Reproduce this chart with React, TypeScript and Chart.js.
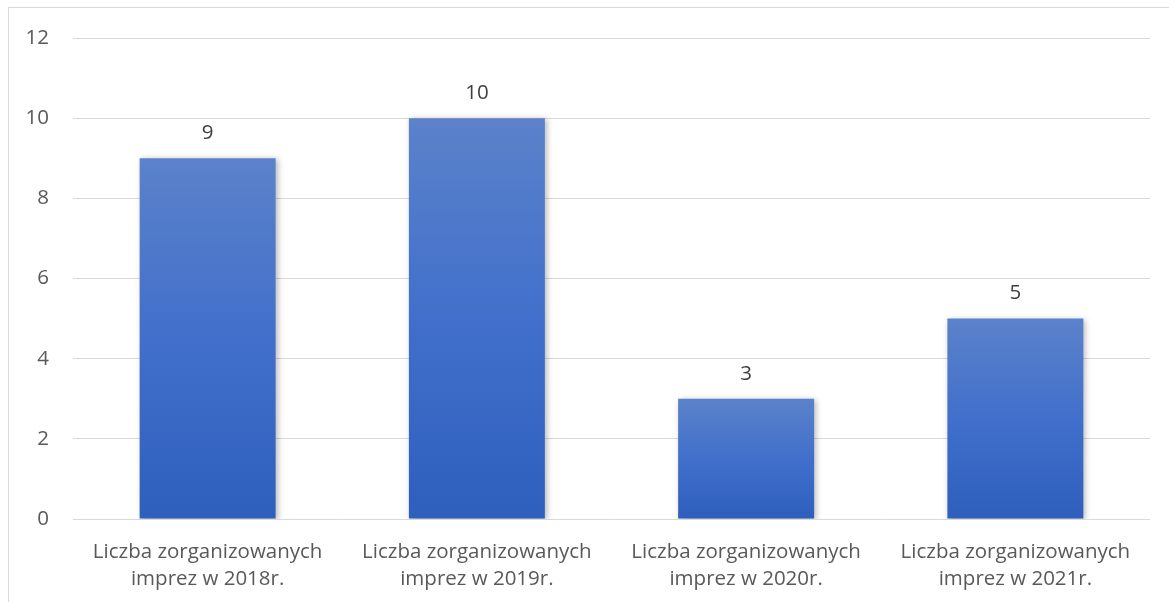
import React, { useEffect, useRef } from "react";
import { Chart, registerables } from "chart.js";

Chart.register(...registerables);

const categories: string[][] = [
  ["Liczba zorganizowanych", "imprez w 2018r."],
  ["Liczba zorganizowanych", "imprez w 2019r."],
  ["Liczba zorganizowanych", "imprez w 2020r."],
  ["Liczba zorganizowanych", "imprez w 2021r."],
];
const values: number[] = [9, 10, 3, 5];
const yMin = 0;
const yMax = 12;
const yStep = 2;

const FONT = "'Open Sans', sans-serif";
const FS = 20.5;

export default function App() {
  const ref = useRef<HTMLCanvasElement | null>(null);

  useEffect(() => {
    document.body.style.overflow = "hidden";
    const canvas = ref.current;
    if (!canvas) return;

    const shadowPlugin = {
      id: "barShadow",
      beforeDatasetsDraw(chart: any) {
        const ctx = chart.ctx;
        ctx.save();
        ctx.shadowColor = "rgba(0,0,0,0.28)";
        ctx.shadowBlur = 6;
        ctx.shadowOffsetX = 2;
        ctx.shadowOffsetY = 1;
      },
      afterDatasetsDraw(chart: any) {
        const ctx = chart.ctx;
        ctx.restore();
        ctx.save();
        ctx.fillStyle = "#404040";
        ctx.font = `${FS}px ${FONT}`;
        ctx.textAlign = "center";
        ctx.textBaseline = "middle";
        const meta = chart.getDatasetMeta(0);
        meta.data.forEach((el: any, i: number) => {
          ctx.fillText(String(values[i]), el.x, el.y - 25);
        });
        ctx.restore();
      },
    };

    const chart = new Chart(canvas, {
      type: "bar",
      data: {
        labels: categories,
        datasets: [
          {
            data: values,
            backgroundColor: (c: any) => {
              const ch = c.chart;
              const ys = ch.scales?.y;
              if (!ys || c.raw === undefined) return "#4472c4";
              const top = ys.getPixelForValue(c.raw);
              const bottom = ys.getPixelForValue(0);
              if (!isFinite(top) || !isFinite(bottom) || top === bottom) return "#4472c4";
              const g = ch.ctx.createLinearGradient(0, top, 0, bottom);
              g.addColorStop(0, "#5b82ca");
              g.addColorStop(0.5, "#416fcb");
              g.addColorStop(1, "#2e5fbd");
              return g;
            },
            borderWidth: 0,
            barPercentage: 0.505,
            categoryPercentage: 1,
          },
        ],
      },
      options: {
        responsive: false,
        animation: false,
        layout: { padding: { left: 0, right: 19, top: 30, bottom: 0 } },
        plugins: {
          legend: { display: false },
          tooltip: { enabled: false },
          title: { display: false },
        },
        scales: {
          x: {
            grid: { display: false, drawTicks: false },
            border: { display: false },
            ticks: {
              color: "#595959",
              font: { family: FONT, size: FS, lineHeight: 1.32 },
              padding: 20,
              maxRotation: 0,
              autoSkip: false,
            },
            afterFit: (s: any) => {
              s.height = 83;
              s.paddingLeft = 0;
              s.paddingRight = 0;
            },
          },
          y: {
            min: yMin,
            max: yMax,
            grid: { color: "#d9d9d9", lineWidth: 1, drawTicks: false },
            border: { display: false },
            ticks: {
              stepSize: yStep,
              color: "#595959",
              font: { family: FONT, size: FS },
              padding: 24,
            },
            afterFit: (s: any) => {
              s.width = 64;
              s.paddingTop = 0;
              s.paddingBottom = 0;
            },
          },
        },
      },
      plugins: [shadowPlugin],
    });

    return () => chart.destroy();
  }, []);

  return (
    <div
      style={{
        position: "fixed",
        left: 8,
        top: 7,
        width: 1161,
        height: 595,
        borderTop: "1px solid #d9d9d9",
        borderLeft: "1px solid #d9d9d9",
        boxSizing: "border-box",
        background: "#fff",
      }}
    >
      <canvas ref={ref} width={1160} height={594} style={{ display: "block" }} />
    </div>
  );
}
